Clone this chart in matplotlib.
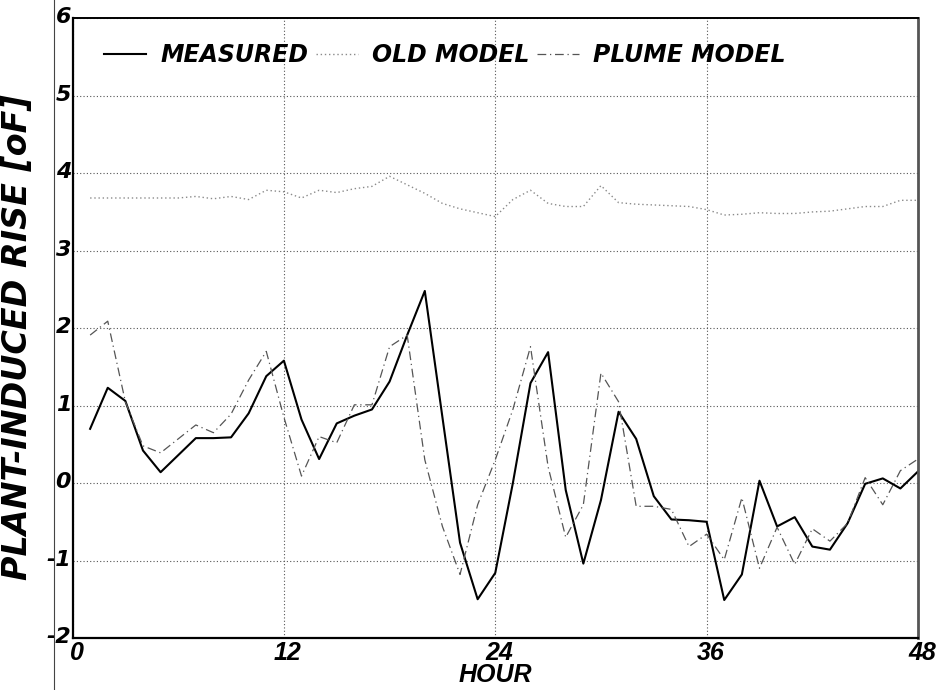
import matplotlib

matplotlib.use("Agg")
import matplotlib.pyplot as plt
import matplotlib.transforms as mtransforms
from matplotlib.lines import Line2D
import numpy as np

hours = np.arange(1, 49)

measured = [
    0.70, 1.23, 1.06, 0.42, 0.14, 0.36, 0.58, 0.58, 0.59, 0.90,
    1.38, 1.58, 0.82, 0.31, 0.77, 0.87, 0.95, 1.31, 1.91, 2.48,
    0.85, -0.77, -1.50, -1.16, 0.00, 1.29, 1.69, -0.09, -1.04, -0.22,
    0.92, 0.57, -0.17, -0.47, -0.48, -0.50, -1.51, -1.18, 0.03, -0.56,
    -0.44, -0.82, -0.86, -0.52, -0.01, 0.06, -0.07, 0.15,
]
old_model = [
    3.68, 3.68, 3.68, 3.68, 3.68, 3.68, 3.70, 3.67, 3.70, 3.66,
    3.78, 3.76, 3.68, 3.78, 3.75, 3.80, 3.83, 3.96, 3.85, 3.74,
    3.61, 3.54, 3.49, 3.44, 3.66, 3.78, 3.61, 3.57, 3.57, 3.84,
    3.62, 3.60, 3.59, 3.58, 3.57, 3.53, 3.46, 3.47, 3.49, 3.48,
    3.48, 3.50, 3.51, 3.54, 3.57, 3.57, 3.65, 3.65,
]
plume_model = [
    1.91, 2.09, 1.05, 0.48, 0.39, 0.57, 0.75, 0.65, 0.89, 1.33,
    1.70, 0.85, 0.09, 0.60, 0.52, 1.01, 1.01, 1.76, 1.91, 0.30,
    -0.56, -1.18, -0.28, 0.30, 0.95, 1.76, 0.21, -0.70, -0.28, 1.42,
    1.05, -0.30, -0.30, -0.34, -0.82, -0.66, -0.99, -0.19, -1.10, -0.57,
    -1.05, -0.59, -0.75, -0.52, 0.07, -0.28, 0.16, 0.31,
]

x_ticks = [0, 12, 24, 36, 48]
y_ticks = [-2, -1, 0, 1, 2, 3, 4, 5, 6]

plt.rcParams["axes.unicode_minus"] = False
heavy = dict(family="DejaVu Sans", weight="bold", style="italic")
narrow = dict(family=["Liberation Sans Narrow", "Liberation Sans"], weight="bold", style="italic")

fig = plt.figure(figsize=(9.43, 6.9), dpi=100)
ax = fig.add_axes([0.0769, 0.0754, 0.8966, 0.8981])

ax.plot(hours, measured, color="black", lw=1.5, label="MEASURED")
ax.plot(hours, old_model, color="#8a8a8a", lw=1.0, ls=(0, (1, 2)), label="OLD MODEL")
ax.plot(hours, plume_model, color="#555555", lw=0.9, ls=(0, (7, 3, 1, 3)), label="PLUME MODEL")

ax.set_xlim(0, 48)
ax.set_ylim(-2, 6)
ax.set_xticks(x_ticks)
ax.set_yticks(y_ticks)
ax.set_xticklabels([str(v) for v in x_ticks], fontsize=18, **narrow)
ax.set_yticklabels([str(v) for v in y_ticks], fontsize=16, **heavy)
ax.tick_params(axis="both", length=0)
ax.tick_params(axis="y", pad=1)
ax.tick_params(axis="x", pad=2)

# italic digits sit a little right of / above their ticks
shift_x = mtransforms.ScaledTranslation(4 / 100, 0, fig.dpi_scale_trans)
shift_y = mtransforms.ScaledTranslation(0, 3 / 100, fig.dpi_scale_trans)
for lbl in ax.get_xticklabels():
    lbl.set_transform(lbl.get_transform() + shift_x)
for lbl in ax.get_yticklabels():
    lbl.set_transform(lbl.get_transform() + shift_y)

ax.grid(True, color="#555555", ls=(0, (1, 2)), lw=0.8)

for side in ("left", "bottom"):
    ax.spines[side].set_linewidth(1.6)
    ax.spines[side].set_color("black")
ax.spines["right"].set_linewidth(2.0)
ax.spines["right"].set_color("#555555")
ax.spines["top"].set_linewidth(1.4)
ax.spines["top"].set_color("black")

ax.set_xlabel("HOUR", fontsize=18, labelpad=-1, **narrow)
ax.set_ylabel("PLANT-INDUCED RISE [oF]", fontsize=24, **heavy)
ax.yaxis.set_label_coords(-0.045, 0.485)

leg = ax.legend(
    loc="upper left",
    ncol=3,
    frameon=False,
    handlelength=1.8,
    handletextpad=0.6,
    columnspacing=0.3,
    borderaxespad=0.0,
    bbox_to_anchor=(0.026, 0.975),
    prop=dict(size=17, weight="bold", style="italic", family="DejaVu Sans"),
)

# thin vertical rule running down the whole page at the left
fig.add_artist(Line2D([54 / 943, 54 / 943], [0, 1], transform=fig.transFigure, color="#444444", lw=0.8))

fig.savefig("out.png", dpi=100)
